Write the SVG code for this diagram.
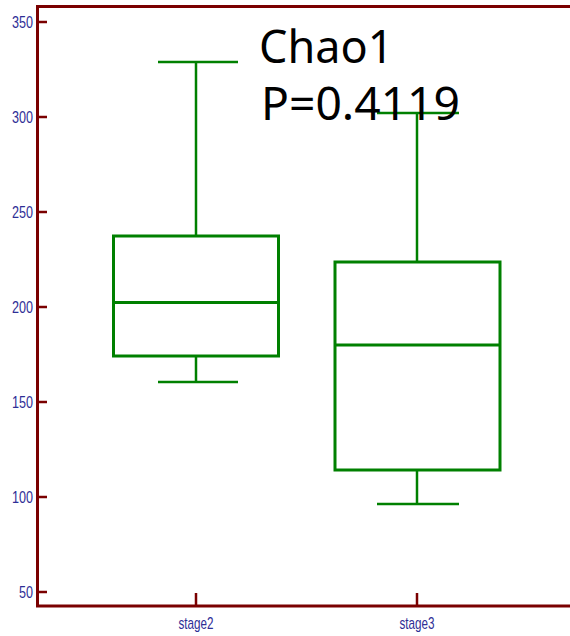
<svg xmlns="http://www.w3.org/2000/svg" width="570" height="636" viewBox="0 0 570 636">
<style>
.ax{stroke:#7a0000;stroke-width:3;fill:none}
.tk{stroke:#7a0000;stroke-width:2.5}
.yl{font-family:"Liberation Sans",Arial,sans-serif;font-size:17px;fill:#2e2e96;text-anchor:end}
.xl{font-family:"Liberation Sans",Arial,sans-serif;font-size:17px;fill:#2e2e96;text-anchor:middle}
.bx{stroke:#008000;stroke-width:3;fill:none}
.wk{stroke:#008000;stroke-width:2.5;fill:none}
.tt{font-family:"Noto Sans","Open Sans",sans-serif;font-size:45px;fill:#000}
</style>
<rect width="570" height="636" fill="#fff"/>
<g id="axes">
<path class="ax" d="M37.5,607 V6.5 H570"/>
<path class="ax" d="M36,606 H570"/>
<g id="yticks">
<line class="tk" x1="37" y1="22" x2="47" y2="22"/>
<line class="tk" x1="37" y1="117" x2="47" y2="117"/>
<line class="tk" x1="37" y1="212" x2="47" y2="212"/>
<line class="tk" x1="37" y1="307" x2="47" y2="307"/>
<line class="tk" x1="37" y1="402" x2="47" y2="402"/>
<line class="tk" x1="37" y1="497" x2="47" y2="497"/>
<line class="tk" x1="37" y1="592" x2="47" y2="592"/>
</g>
<g id="ylabels">
<text class="yl" x="33" y="28" textLength="21" lengthAdjust="spacingAndGlyphs">350</text>
<text class="yl" x="33" y="123" textLength="21" lengthAdjust="spacingAndGlyphs">300</text>
<text class="yl" x="33" y="218" textLength="21" lengthAdjust="spacingAndGlyphs">250</text>
<text class="yl" x="33" y="313" textLength="21" lengthAdjust="spacingAndGlyphs">200</text>
<text class="yl" x="33" y="408" textLength="21" lengthAdjust="spacingAndGlyphs">150</text>
<text class="yl" x="33" y="503" textLength="21" lengthAdjust="spacingAndGlyphs">100</text>
<text class="yl" x="33" y="598" textLength="14" lengthAdjust="spacingAndGlyphs">50</text>
</g>
<g id="xticks">
<line class="tk" x1="196" y1="606" x2="196" y2="593"/>
<line class="tk" x1="417" y1="606" x2="417" y2="593"/>
</g>
<g id="xlabels">
<text class="xl" x="196" y="629" textLength="35" lengthAdjust="spacingAndGlyphs">stage2</text>
<text class="xl" x="417" y="629" textLength="35" lengthAdjust="spacingAndGlyphs">stage3</text>
</g>
</g>
<g id="box-stage2">
<line class="wk" x1="196" y1="62" x2="196" y2="236"/>
<line class="wk" x1="158" y1="62" x2="238" y2="62"/>
<line class="wk" x1="196" y1="356" x2="196" y2="382"/>
<line class="wk" x1="158" y1="382" x2="238" y2="382"/>
<rect class="bx" x="113.5" y="236" width="165" height="120"/>
<line class="bx" x1="113.5" y1="302.5" x2="278.5" y2="302.5"/>
</g>
<g id="box-stage3">
<line class="wk" x1="417" y1="113" x2="417" y2="262"/>
<line class="wk" x1="377" y1="113" x2="459" y2="113"/>
<line class="wk" x1="417" y1="470" x2="417" y2="504"/>
<line class="wk" x1="377" y1="504" x2="459" y2="504"/>
<rect class="bx" x="335" y="262" width="165" height="208"/>
<line class="bx" x1="335" y1="345" x2="500" y2="345"/>
</g>
<g id="title">
<text class="tt" x="259" y="63">Chao1</text>
<text class="tt" x="261" y="120" textLength="199" lengthAdjust="spacingAndGlyphs">P=0.4119</text>
</g>
</svg>
